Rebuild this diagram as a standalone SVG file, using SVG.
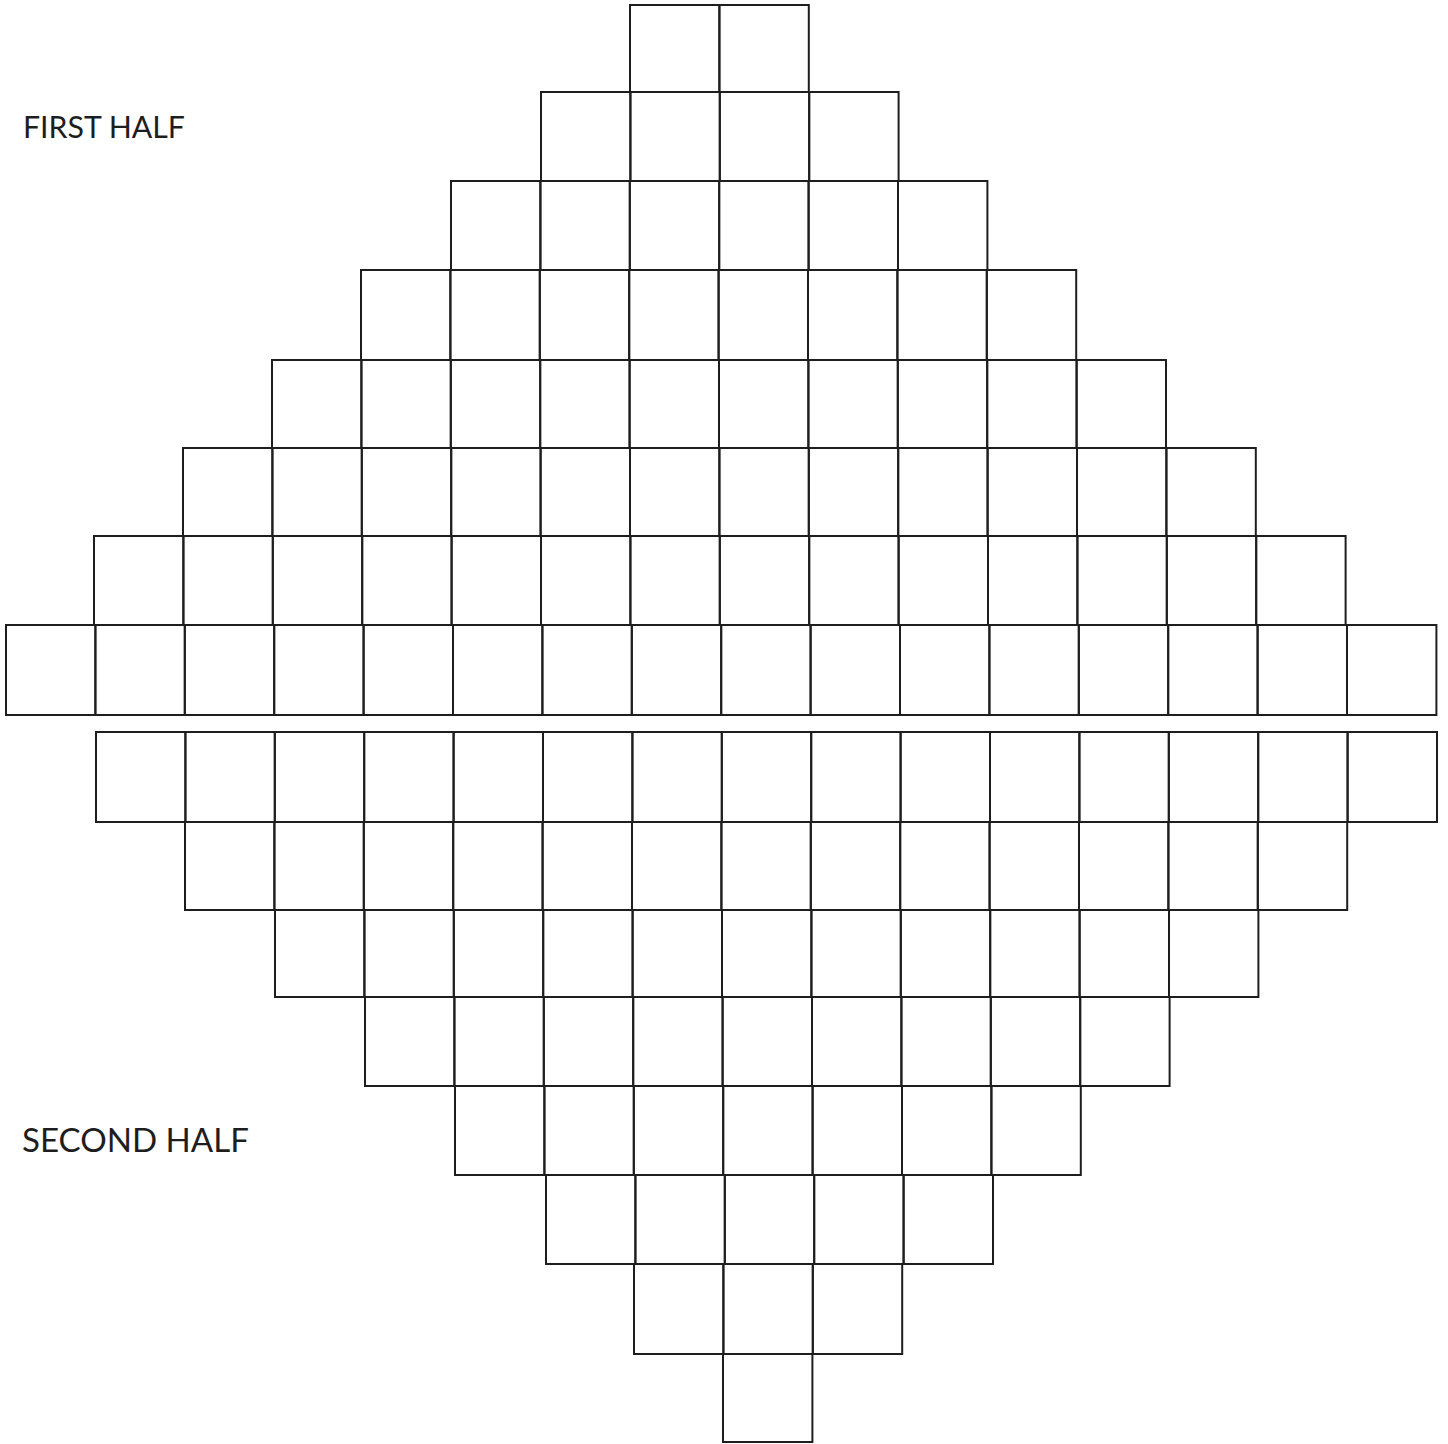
<svg xmlns="http://www.w3.org/2000/svg" width="1448" height="1444" viewBox="0 0 1448 1444">
<style>
rect{fill:none;stroke:#1e1e1e;stroke-width:2}
text{font-family:"Lato","Liberation Sans",sans-serif;font-weight:400;fill:#1e1e1e}
</style>
<rect x="0" y="0" width="1448" height="1444" style="fill:#fff;stroke:none"/>
<text x="23" y="138" font-size="31" textLength="162" lengthAdjust="spacingAndGlyphs">FIRST HALF</text>
<text x="22" y="1152" font-size="32" textLength="227" lengthAdjust="spacingAndGlyphs">SECOND HALF</text>
<g id="first-half">
<g id="f0" transform="translate(630,5)"><rect x="0" y="0" width="89.4" height="87"/><rect x="89.4" y="0" width="89.4" height="87"/></g>
<g id="f1" transform="translate(541,92)"><rect x="0" width="89.4" height="89"/><rect x="89.4" width="89.4" height="89"/><rect x="178.8" width="89.4" height="89"/><rect x="268.2" width="89.4" height="89"/></g>
<g id="f2" transform="translate(451,181)"><rect x="0" width="89.4" height="89"/><rect x="89.4" width="89.4" height="89"/><rect x="178.8" width="89.4" height="89"/><rect x="268.2" width="89.4" height="89"/><rect x="357.6" width="89.4" height="89"/><rect x="447" width="89.4" height="89"/></g>
<g id="f3" transform="translate(361,270)"><rect x="0" width="89.4" height="90"/><rect x="89.4" width="89.4" height="90"/><rect x="178.8" width="89.4" height="90"/><rect x="268.2" width="89.4" height="90"/><rect x="357.6" width="89.4" height="90"/><rect x="447" width="89.4" height="90"/><rect x="536.4" width="89.4" height="90"/><rect x="625.8" width="89.4" height="90"/></g>
<g id="f4" transform="translate(272,360)"><rect x="0" width="89.4" height="88"/><rect x="89.4" width="89.4" height="88"/><rect x="178.8" width="89.4" height="88"/><rect x="268.2" width="89.4" height="88"/><rect x="357.6" width="89.4" height="88"/><rect x="447" width="89.4" height="88"/><rect x="536.4" width="89.4" height="88"/><rect x="625.8" width="89.4" height="88"/><rect x="715.2" width="89.4" height="88"/><rect x="804.6" width="89.4" height="88"/></g>
<g id="f5" transform="translate(183,448)"><rect x="0" width="89.4" height="88"/><rect x="89.4" width="89.4" height="88"/><rect x="178.8" width="89.4" height="88"/><rect x="268.2" width="89.4" height="88"/><rect x="357.6" width="89.4" height="88"/><rect x="447" width="89.4" height="88"/><rect x="536.4" width="89.4" height="88"/><rect x="625.8" width="89.4" height="88"/><rect x="715.2" width="89.4" height="88"/><rect x="804.6" width="89.4" height="88"/><rect x="894" width="89.4" height="88"/><rect x="983.4" width="89.4" height="88"/></g>
<g id="f6" transform="translate(94,536)"><rect x="0" width="89.4" height="89"/><rect x="89.4" width="89.4" height="89"/><rect x="178.8" width="89.4" height="89"/><rect x="268.2" width="89.4" height="89"/><rect x="357.6" width="89.4" height="89"/><rect x="447" width="89.4" height="89"/><rect x="536.4" width="89.4" height="89"/><rect x="625.8" width="89.4" height="89"/><rect x="715.2" width="89.4" height="89"/><rect x="804.6" width="89.4" height="89"/><rect x="894" width="89.4" height="89"/><rect x="983.4" width="89.4" height="89"/><rect x="1072.8" width="89.4" height="89"/><rect x="1162.2" width="89.4" height="89"/></g>
<g id="f7" transform="translate(6,625)"><rect x="0" width="89.4" height="90"/><rect x="89.4" width="89.4" height="90"/><rect x="178.8" width="89.4" height="90"/><rect x="268.2" width="89.4" height="90"/><rect x="357.6" width="89.4" height="90"/><rect x="447" width="89.4" height="90"/><rect x="536.4" width="89.4" height="90"/><rect x="625.8" width="89.4" height="90"/><rect x="715.2" width="89.4" height="90"/><rect x="804.6" width="89.4" height="90"/><rect x="894" width="89.4" height="90"/><rect x="983.4" width="89.4" height="90"/><rect x="1072.8" width="89.4" height="90"/><rect x="1162.2" width="89.4" height="90"/><rect x="1251.6" width="89.4" height="90"/><rect x="1341" width="89.4" height="90"/></g>
</g>
<g id="second-half">
<g id="s0" transform="translate(96,732)"><rect x="0" width="89.4" height="90"/><rect x="89.4" width="89.4" height="90"/><rect x="178.8" width="89.4" height="90"/><rect x="268.2" width="89.4" height="90"/><rect x="357.6" width="89.4" height="90"/><rect x="447" width="89.4" height="90"/><rect x="536.4" width="89.4" height="90"/><rect x="625.8" width="89.4" height="90"/><rect x="715.2" width="89.4" height="90"/><rect x="804.6" width="89.4" height="90"/><rect x="894" width="89.4" height="90"/><rect x="983.4" width="89.4" height="90"/><rect x="1072.8" width="89.4" height="90"/><rect x="1162.2" width="89.4" height="90"/><rect x="1251.6" width="89.4" height="90"/></g>
<g id="s1" transform="translate(185,822)"><rect x="0" width="89.4" height="88"/><rect x="89.4" width="89.4" height="88"/><rect x="178.8" width="89.4" height="88"/><rect x="268.2" width="89.4" height="88"/><rect x="357.6" width="89.4" height="88"/><rect x="447" width="89.4" height="88"/><rect x="536.4" width="89.4" height="88"/><rect x="625.8" width="89.4" height="88"/><rect x="715.2" width="89.4" height="88"/><rect x="804.6" width="89.4" height="88"/><rect x="894" width="89.4" height="88"/><rect x="983.4" width="89.4" height="88"/><rect x="1072.8" width="89.4" height="88"/></g>
<g id="s2" transform="translate(275,910)"><rect x="0" width="89.4" height="87"/><rect x="89.4" width="89.4" height="87"/><rect x="178.8" width="89.4" height="87"/><rect x="268.2" width="89.4" height="87"/><rect x="357.6" width="89.4" height="87"/><rect x="447" width="89.4" height="87"/><rect x="536.4" width="89.4" height="87"/><rect x="625.8" width="89.4" height="87"/><rect x="715.2" width="89.4" height="87"/><rect x="804.6" width="89.4" height="87"/><rect x="894" width="89.4" height="87"/></g>
<g id="s3" transform="translate(365,997)"><rect x="0" width="89.4" height="89"/><rect x="89.4" width="89.4" height="89"/><rect x="178.8" width="89.4" height="89"/><rect x="268.2" width="89.4" height="89"/><rect x="357.6" width="89.4" height="89"/><rect x="447" width="89.4" height="89"/><rect x="536.4" width="89.4" height="89"/><rect x="625.8" width="89.4" height="89"/><rect x="715.2" width="89.4" height="89"/></g>
<g id="s4" transform="translate(455,1086)"><rect x="0" width="89.4" height="89"/><rect x="89.4" width="89.4" height="89"/><rect x="178.8" width="89.4" height="89"/><rect x="268.2" width="89.4" height="89"/><rect x="357.6" width="89.4" height="89"/><rect x="447" width="89.4" height="89"/><rect x="536.4" width="89.4" height="89"/></g>
<g id="s5" transform="translate(546,1175)"><rect x="0" width="89.4" height="89"/><rect x="89.4" width="89.4" height="89"/><rect x="178.8" width="89.4" height="89"/><rect x="268.2" width="89.4" height="89"/><rect x="357.6" width="89.4" height="89"/></g>
<g id="s6" transform="translate(634,1264)"><rect x="0" width="89.4" height="90"/><rect x="89.4" width="89.4" height="90"/><rect x="178.8" width="89.4" height="90"/></g>
<g id="s7" transform="translate(723,1354)"><rect x="0" width="89.4" height="88"/></g>
</g>
</svg>
